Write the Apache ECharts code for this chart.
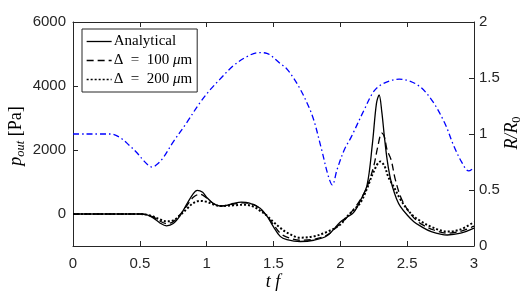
<!DOCTYPE html>
<html>
<head>
<meta charset="utf-8">
<script src="https://cdn.jsdelivr.net/npm/echarts@6/dist/echarts.min.js"></script>
<style>html,body{margin:0;padding:0;background:#fff}#c{width:529px;height:297px}</style>
</head>
<body>
<div id="c"></div>
<script>
// ---- data ----
const xTicks = [0, 0.5, 1, 1.5, 2, 2.5, 3];
const pTicks = [0, 2000, 4000, 6000];
const rTicks = [0, 0.5, 1, 1.5, 2];

const tfAna = [0,0.3,0.5,0.55,0.6,0.65,0.7,0.75,0.8,0.85,0.9,0.93,0.97,1.0,1.05,1.1,1.15,1.2,1.26,1.32,1.4,1.45,1.5,1.55,1.6,1.7,1.8,1.9,2.0,2.05,2.1,2.15,2.2,2.24,2.27,2.29,2.31,2.33,2.35,2.37,2.39,2.42,2.45,2.5,2.55,2.6,2.68,2.8,2.9,3.0];
const pAna  = [0,0,0,-20,-120,-280,-370,-300,-60,300,640,740,680,520,330,250,270,330,370,340,180,-60,-400,-700,-800,-860,-820,-680,-250,-100,50,420,900,2200,3450,3720,3200,2400,1700,1200,850,480,230,-30,-240,-380,-550,-656,-600,-440];

const tf100 = [0,0.3,0.5,0.55,0.6,0.65,0.7,0.75,0.8,0.85,0.9,0.95,1.0,1.05,1.1,1.2,1.27,1.35,1.4,1.45,1.5,1.55,1.6,1.7,1.8,1.9,2.0,2.05,2.1,2.15,2.2,2.25,2.28,2.31,2.33,2.35,2.38,2.41,2.45,2.5,2.55,2.6,2.7,2.8,2.9,3.0];
const p100  = [0,0,0,-20,-90,-220,-300,-240,-20,250,520,620,500,330,250,310,350,300,160,-60,-330,-600,-720,-820,-790,-660,-300,-100,150,450,850,1500,2100,2530,2400,2000,1690,1100,550,150,-120,-300,-500,-600,-540,-380];

const tf200 = [0,0.3,0.5,0.55,0.6,0.65,0.7,0.75,0.8,0.85,0.9,0.95,1.0,1.05,1.1,1.2,1.28,1.35,1.4,1.45,1.5,1.55,1.6,1.7,1.8,1.9,2.0,2.05,2.1,2.15,2.2,2.25,2.3,2.33,2.36,2.4,2.45,2.5,2.55,2.6,2.68,2.8,2.9,3.0];
const p200  = [0,0,0,-20,-80,-170,-230,-200,-40,150,340,410,380,300,250,270,290,230,100,-50,-250,-430,-580,-740,-700,-560,-330,-80,130,350,800,1330,1640,1500,1150,850,450,150,-80,-220,-400,-550,-480,-250];

const tfR = [0,0.1,0.2,0.28,0.35,0.42,0.48,0.53,0.57,0.59,0.62,0.67,0.75,0.85,0.95,1.03,1.1,1.2,1.3,1.39,1.45,1.55,1.6,1.65,1.7,1.75,1.8,1.86,1.91,1.94,1.975,2.03,2.08,2.18,2.25,2.32,2.44,2.575,2.68,2.78,2.85,2.91,2.96,3.0];
const rR  = [1,1,1,1,0.97,0.9,0.83,0.76,0.715,0.705,0.72,0.78,0.93,1.1,1.28,1.40,1.49,1.61,1.69,1.727,1.72,1.63,1.58,1.50,1.40,1.28,1.13,0.86,0.625,0.545,0.68,0.86,0.97,1.22,1.38,1.45,1.49,1.44,1.31,1.10,0.89,0.745,0.67,0.70];

const names = ['Analytical', 'Δ\u2002=\u2002100 μm', 'Δ\u2002=\u2002200 μm'];

const zip = (a, b) => a.map((v, i) => [v, b[i]]);
const AX = '#262626';
const SERIF = 'Liberation Serif';
const SANS = 'Liberation Sans';

const chart = echarts.init(document.getElementById('c'), null, {renderer: 'canvas'});
const tickCommon = {inside: true, length: 5, lineStyle: {color: AX, width: 1}};
chart.setOption({
  animation: false,
  backgroundColor: '#fff',
  grid: {left: 73, right: 55, top: 22, bottom: 51, outerBoundsMode: 'none', containLabel: false},
  legend: {
    left: 82, top: 29, orient: 'vertical',
    itemWidth: 25, itemHeight: 14, itemGap: 4,
    padding: [5, 5, 5, 4],
    borderColor: AX, borderWidth: 1, backgroundColor: '#fff',
    data: names,
    itemStyle: {opacity: 0},
    lineStyle: {width: 1.3},
    formatter: n => n.replace('μ', '{i|μ}'),
    textStyle: {fontFamily: SERIF, fontSize: 15, color: '#000', padding: [0,0,0,-3],
      rich: {i: {fontFamily: SERIF, fontSize: 15, fontStyle: 'italic', color: '#000'}}}
  },
  graphic: [{
    type: 'text', x: 16, y: 136, rotation: Math.PI / 2,
    style: {
      text: '{i|p}{s|out}{g| }{n|[Pa]}', align: 'center', verticalAlign: 'middle',
      rich: {
        i: {fontFamily: SERIF, fontStyle: 'italic', fontSize: 18, fill: '#000', lineHeight: 22},
        s: {fontFamily: SERIF, fontStyle: 'italic', fontSize: 12.5, fill: '#000', lineHeight: 22, padding: [9, 0, 0, 0]},
        g: {fontFamily: SERIF, fontSize: 18, lineHeight: 22},
        n: {fontFamily: SERIF, fontSize: 18, fill: '#000', lineHeight: 22}
      }
    }
  }, {
    type: 'text', x: 512, y: 133, rotation: Math.PI / 2,
    style: {
      text: '{i|R/R}{s|0}', align: 'center', verticalAlign: 'middle',
      rich: {
        i: {fontFamily: SERIF, fontStyle: 'italic', fontSize: 18, fill: '#000', lineHeight: 22},
        s: {fontFamily: SERIF, fontSize: 12.5, fill: '#000', lineHeight: 22, padding: [9, 0, 0, 0]}
      }
    }
  }, {
    type: 'text', x: 273, y: 282,
    style: {
      text: 't f', align: 'center', verticalAlign: 'middle',
      fontFamily: SERIF, fontStyle: 'italic', fontSize: 18, fill: '#000'
    }
  }],
  xAxis: [{
    type: 'value', min: 0, max: 3, interval: 0.5, position: 'bottom',
    axisLine: {show: true, onZero: false, lineStyle: {color: AX}},
    axisTick: tickCommon,
    splitLine: {show: false},
    axisLabel: {color: AX, fontFamily: SANS, fontSize: 15, margin: 10,
      customValues: xTicks, formatter: v => String(v)}
  }, {
    type: 'value', min: 0, max: 3, interval: 0.5, position: 'top',
    axisLine: {show: true, onZero: false, lineStyle: {color: AX}},
    axisTick: tickCommon, axisLabel: {show: false}, splitLine: {show: false}
  }],
  yAxis: [{
    type: 'value', min: -1000, max: 6000, position: 'left',
    axisLine: {show: true, onZero: false, lineStyle: {color: AX}},
    axisTick: Object.assign({customValues: pTicks}, tickCommon),
    splitLine: {show: false},
    axisLabel: {color: AX, fontFamily: SANS, fontSize: 15, margin: 7, customValues: pTicks,
      formatter: v => String(v)}
  }, {
    type: 'value', min: 0, max: 2, interval: 0.5, position: 'right',
    axisLine: {show: true, onZero: false, lineStyle: {color: AX}},
    axisTick: tickCommon, splitLine: {show: false},
    axisLabel: {color: AX, fontFamily: SANS, fontSize: 15, margin: 5, customValues: rTicks,
      formatter: v => String(v)}
  }],
  series: [{
    name: names[0], type: 'line', data: zip(tfAna, pAna), symbol: 'none', smooth: 0.35,
    lineStyle: {color: '#000', width: 1.3, type: 'solid'}, itemStyle: {color: '#000'}, z: 5
  }, {
    name: names[1], type: 'line', data: zip(tf100, p100), symbol: 'none', smooth: 0.35,
    lineStyle: {color: '#000', width: 1.3, type: [7, 4]}, itemStyle: {color: '#000'}, z: 4
  }, {
    name: names[2], type: 'line', data: zip(tf200, p200), symbol: 'none', smooth: 0.35,
    lineStyle: {color: '#000', width: 2, type: [2, 2]}, itemStyle: {color: '#000'}, z: 3
  }, {
    name: 'R', type: 'line', yAxisIndex: 1, data: zip(tfR, rR), symbol: 'none', smooth: 0.35,
    lineStyle: {color: '#0000ff', width: 1.3, type: [6, 3, 1.5, 3]}, itemStyle: {color: '#0000ff'}, z: 2
  }]
});
</script>
</body>
</html>
